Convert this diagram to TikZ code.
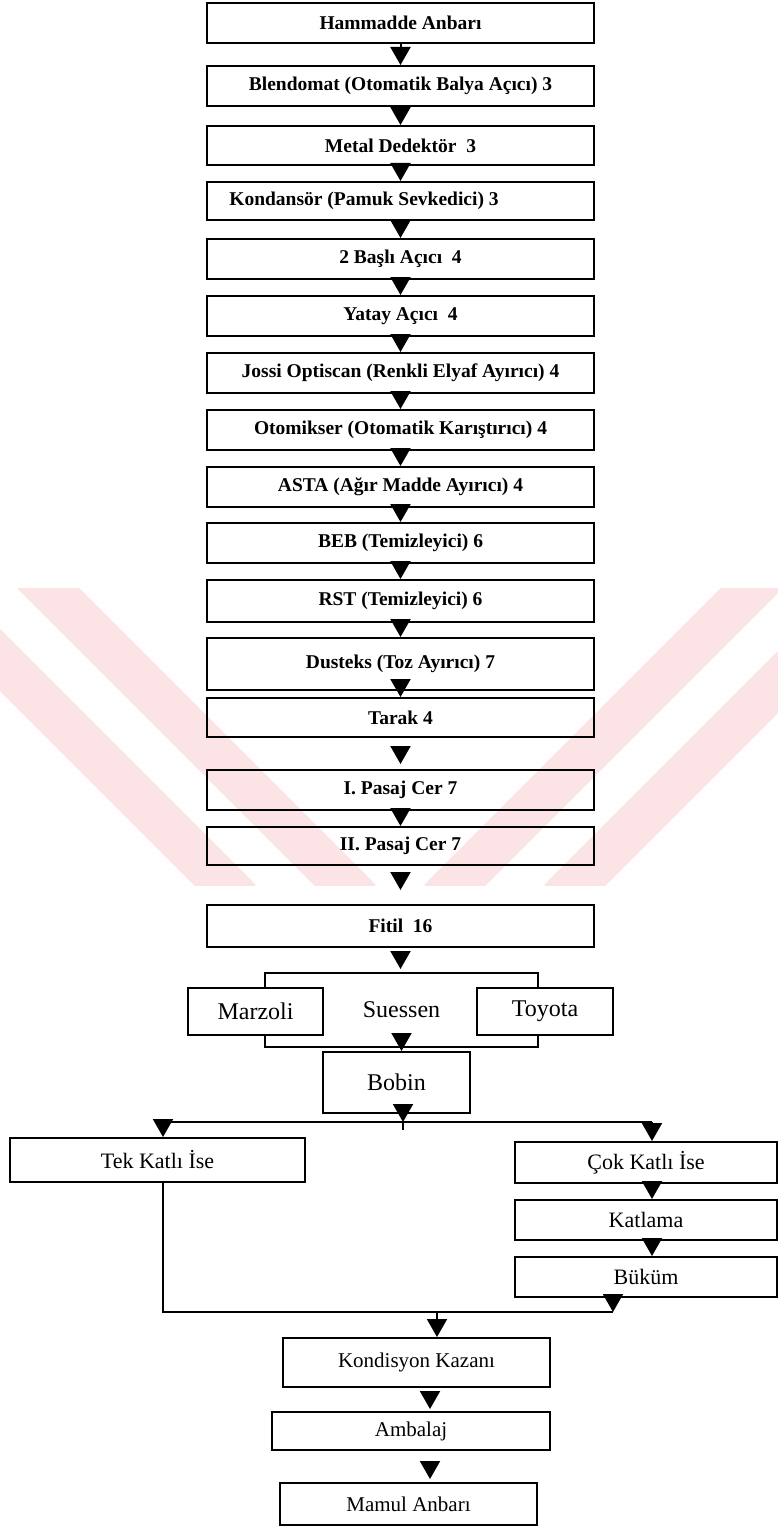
\documentclass[tikz,border=0pt]{standalone}
\usepackage{fontspec}
\setmainfont{Liberation Serif}
\usetikzlibrary{arrows.meta}
\definecolor{wmpink}{RGB}{252,228,230}
\begin{document}
\begin{tikzpicture}[x=1pt,y=-1pt,
  box/.style={draw=black, line width=2pt, inner sep=0pt, anchor=center},
  mainbox/.style={box, minimum width=387pt, minimum height=40pt,
    font=\fontsize{19.5}{22}\selectfont\bfseries},
  bigtxt/.style={font=\fontsize{24}{26}\selectfont},
  midtxt/.style={font=\fontsize{22}{24}\selectfont},
  lowtxt/.style={font=\fontsize{21}{23}\selectfont},
  conn/.style={line width=2pt},
  tri/.style={conn, -{Triangle[width=20pt,length=18pt]}},
  wmband/.style={wmpink, line width=44pt},
]
\useasboundingbox (0,0) rectangle (778,1533);

% faint background stripes
\begin{scope}
  \clip (0,588) rectangle (778,885);
  \draw[wmband] (20,560) -- (360,900);
  \draw[wmband] (-100,560) -- (240,900);
  \draw[wmband] (440,900) -- (780,560);
  \draw[wmband] (560,900) -- (900,560);
\end{scope}

% main processing column
\node[mainbox] (ham) at (400.5,23) {Hammadde Anbarı};
\node[mainbox] (blend) at (400.5,86) {Blendomat (Otomatik Balya Açıcı) 3};
\node[mainbox, minimum height=39pt] (metal) at (400.5,145.5) {Metal Dedektör\ \ 3};
\node[mainbox, minimum height=38pt] (kond) at (400.5,201) {Kondansör (Pamuk Sevkedici) 3\hspace*{73pt}};
\node[mainbox] (bas) at (400.5,259) {2 Başlı Açıcı\ \ 4};
\node[mainbox] (yatay) at (400.5,316) {Yatay Açıcı\ \ 4};
\node[mainbox] (jossi) at (400.5,373) {Jossi Optiscan (Renkli Elyaf Ayırıcı) 4};
\node[mainbox] (oto) at (400.5,430) {Otomikser (Otomatik Karıştırıcı) 4};
\node[mainbox] (asta) at (400.5,487) {ASTA (Ağır Madde Ayırıcı) 4};
\node[mainbox] (beb) at (400.5,543) {BEB (Temizleyici) 6};
\node[mainbox, minimum height=42pt] (rst) at (400.5,601) {RST (Temizleyici) 6};
\node[mainbox, minimum height=52pt] (dust) at (400.5,664) {Dusteks (Toz Ayırıcı) 7};
\node[mainbox, minimum height=39pt] (tarak) at (400.5,717.5) {Tarak 4};
\node[mainbox] (pas1) at (400.5,790) {I. Pasaj Cer 7};
\node[mainbox, minimum height=38pt] (pas2) at (400.5,846) {II. Pasaj Cer 7};
\node[mainbox, minimum height=42pt] (fitil) at (400.5,926) {Fitil\ \ 16};

\draw[tri] (ham) -- (blend);
\draw[tri] (blend) -- (metal);
\draw[tri] (metal) -- (kond);
\draw[tri] (kond) -- (bas);
\draw[tri] (bas) -- (yatay);
\draw[tri] (yatay) -- (jossi);
\draw[tri] (jossi) -- (oto);
\draw[tri] (oto) -- (asta);
\draw[tri] (asta) -- (beb);
\draw[tri] (beb) -- (rst);
\draw[tri] (rst) -- (dust);
\draw[tri] (dust.south) -- (tarak.north);
\draw[tri, shorten <=10pt, shorten >=5pt] (tarak.south) -- (pas1.north);
\draw[tri] (pas1.south) -- (pas2.north);
\draw[tri, shorten <=8pt, shorten >=14pt] (pas2.south) -- (fitil.north);

% spinning machines
\node[box, bigtxt, minimum width=273pt, minimum height=74pt] (sues) at (401.5,1010) {Suessen};
\node[box, bigtxt, fill=white, minimum width=135pt, minimum height=47pt] (marz) at (255.5,1011.5) {Marzoli};
\node[box, bigtxt, fill=white, minimum width=136pt, minimum height=47pt] (toy) at (545,1011.5) {Toyota};
\draw[tri, shorten <=5pt, shorten >=3pt] (fitil.south) -- (fitil.south |- sues.north);

\node[box, bigtxt, minimum width=147pt, minimum height=61pt] (bobin) at (396.5,1082.5) {Bobin};
\draw[tri] (sues.south) -- (sues.south |- bobin.north);

% branching after winding
\coordinate (split) at (403,1122);
\coordinate (bl) at (163,1122);
\coordinate (br) at (652,1122);
\node[box, midtxt, minimum width=295pt, minimum height=44pt] (tek) at (157.5,1160) {Tek Katlı İse};
\node[box, midtxt, minimum width=262pt, minimum height=41pt] (cok) at (646,1162.5) {Çok Katlı İse};
\node[box, midtxt, minimum width=262pt, minimum height=40pt] (katl) at (646,1220) {Katlama};
\node[box, midtxt, minimum width=262pt, minimum height=40pt] (bukum) at (646,1277) {Büküm};

\draw[tri] (bobin.south -| split) -- (split);
\draw[conn] (split) -- ++(0,8);
\draw[conn] (bl) -- (br);
\draw[tri] (bl) -- (bl |- tek.north);
\draw[tri] (br) -- (br |- cok.north);
\draw[tri] (cok.south -| br) -- (katl.north -| br);
\draw[tri] (katl.south -| br) -- (bukum.north -| br);

% merge and final steps
\coordinate (ml) at (163,1312);
\coordinate (mr) at (613,1312);
\coordinate (mc) at (437,1312);
\coordinate (ax) at (430,0);
\node[box, lowtxt, minimum width=267pt, minimum height=49pt] (kondi) at (416.5,1362.5) {Kondisyon Kazanı};
\node[box, lowtxt, minimum width=278pt, minimum height=38pt] (amb) at (411,1431) {Ambalaj};
\node[box, lowtxt, minimum width=257pt, minimum height=42pt] (mamul) at (408.5,1504) {Mamul Anbarı};

\draw[conn] (tek.south -| ml) -- (ml) -- (mr);
\draw[tri] (bukum.south -| mr) -- (mr);
\draw[tri] (mc) -- (mc |- kondi.north);
\draw[tri, shorten <=3pt, shorten >=2pt] (kondi.south -| ax) -- (amb.north -| ax);
\draw[tri, shorten <=10pt, shorten >=3pt] (amb.south -| ax) -- (mamul.north -| ax);
\end{tikzpicture}
\end{document}
